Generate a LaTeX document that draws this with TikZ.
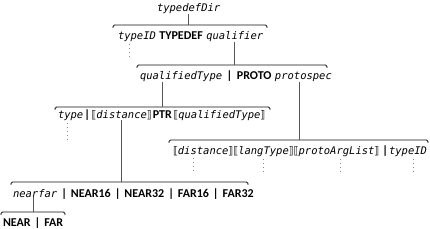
\documentclass[tikz,border=0pt]{standalone}
\usepackage{fontspec}
\usepackage{tikz}
\usetikzlibrary{positioning}
\newfontfamily\ntfont{DejaVu Sans Mono}
\newfontfamily\bkfont{DejaVu Sans}
\newfontfamily\kwfont{Carlito}
\definecolor{ink}{HTML}{111111}
\definecolor{stemc}{HTML}{555555}
\definecolor{dotc}{HTML}{8A8A8A}
\newcommand{\lbrk}{{\bkfont\upshape ⟦}\kern-0.3pt}
\newcommand{\rbrk}{\kern-0.3pt{\bkfont\upshape ⟧}}
\tikzset{
  nt/.style={font=\ntfont\itshape\fontsize{10.5}{12}\selectfont,inner sep=0pt,outer sep=0pt,anchor=base west},
  kw/.style={font=\kwfont\bfseries\fontsize{12}{12}\selectfont,inner sep=0pt,outer sep=0pt,anchor=base west},
  brk/.style={ink,line width=0.8pt,rounded corners=1.5pt},
  stem/.style={stemc,line width=0.9pt},
  ellip/.style={dotc,line width=1pt,dash pattern=on 1pt off 3pt},
}

\begin{document}
\begin{tikzpicture}[x=1pt,y=-1pt]
  \useasboundingbox (0,0) rectangle (430,229);
  % ---------- bracket ends and stem feet ----------
  \coordinate (b1l) at (113,25);  \coordinate (b1r) at (267,25);
  \coordinate (b2l) at (137,65);  \coordinate (b2r) at (327,65);
  \coordinate (b3l) at (55,107);  \coordinate (b3r) at (270,107);
  \coordinate (b4l) at (169,140); \coordinate (b4r) at (428,140);
  \coordinate (b5l) at (11,182);  \coordinate (b5r) at (248,182);
  \coordinate (b6l) at (1,212);   \coordinate (b6r) at (65,212);
  \coordinate (s3) at (162,107);
  \coordinate (s4) at (299,140);
  \coordinate (s5) at (121,182);
  \coordinate (s6) at (33,212);
  % ---------- rows ----------
  \node[nt] (tdd) at (157,12) {typedefDir};
  \node[nt] (tid) at (118,40) {typeID};
  \node[kw,base right=3.5pt of tid] (tdef) {TYPEDEF};
  \node[nt,base right=3.5pt of tdef] (qual) {qualifier};
  \node[nt] (qt) at (140,80) {qualifiedType};
  \node[kw,base right=4.5pt of qt] (bar1) {|};
  \node[kw,base right=4.5pt of bar1] (proto) {PROTO};
  \node[nt,base right=3.5pt of proto] (ps) {protospec};
  \node[nt] (ty) at (58,119) {type};
  \node[kw,base right=1pt of ty] (bar2) {|};
  \node[nt,base right=1.5pt of bar2] (dist) {\lbrk distance\rbrk};
  \node[kw,base right=1pt of dist] (ptr) {PTR};
  \node[nt,base right=1.5pt of ptr] (pqt) {\lbrk qualifiedType\rbrk};
  \node[nt] (dist2) at (173,155) {\lbrk distance\rbrk};
  \node[nt,base right=0pt of dist2] (lt) {\lbrk langType\rbrk};
  \node[nt,base right=0pt of lt] (pal) {\lbrk protoArgList\rbrk};
  \node[kw,base right=3pt of pal] (bar3) {|};
  \node[nt,base right=1pt of bar3] (tid2) {typeID};
  \node[nt] (nf) at (13,197) {nearfar};
  \node[kw,base right=4pt of nf] (bar4) {|};
  \node[kw,base right=4pt of bar4] (n16) {NEAR16};
  \node[kw,base right=4pt of n16] (bar5) {|};
  \node[kw,base right=4pt of bar5] (n32) {NEAR32};
  \node[kw,base right=4pt of n32] (bar6) {|};
  \node[kw,base right=4pt of bar6] (f16) {FAR16};
  \node[kw,base right=4pt of f16] (bar7) {|};
  \node[kw,base right=4pt of bar7] (f32) {FAR32};
  \node[kw] (near) at (3,226) {NEAR};
  \node[kw,base right=4pt of near] (bar8) {|};
  \node[kw,base right=4pt of bar8] (far) {FAR};
  % ---------- brackets ----------
  \foreach \b in {1,...,6}
    \draw[brk] ([yshift=-3pt]b\b l) -- (b\b l) -- (b\b r) -- ([yshift=-3pt]b\b r);
  % ---------- stems ----------
  \draw[stem] (tdd.south) -- (tdd.south |- b1l);
  \draw[stem] (qual.south) -- (qual.south |- b2l);
  \draw[stem] (qt.south -| s3) -- (s3);
  \draw[stem] (ps.south -| s4) -- (s4);
  \draw[stem] (dist.south -| s5) -- (s5);
  \draw[stem] (nf.south -| s6) -- (s6);
  % ---------- elisions ----------
  \coordinate (e1) at (129,58);
  \coordinate (e2) at (67,142);
  \coordinate (e3) at (193,172);
  \coordinate (e4) at (263,172);
  \coordinate (e5) at (340,172);
  \coordinate (e6) at (413,172);
  \draw[ellip] ([yshift=-2pt]tid.south -| e1) -- (e1);
  \draw[ellip] ([yshift=-2pt]ty.south -| e2) -- (e2);
  \draw[ellip] ([yshift=-2pt]dist2.south -| e3) -- (e3);
  \draw[ellip] ([yshift=-2pt]lt.south -| e4) -- (e4);
  \draw[ellip] ([yshift=-2pt]pal.south -| e5) -- (e5);
  \draw[ellip] ([yshift=-2pt]tid2.south -| e6) -- (e6);
\end{tikzpicture}
\end{document}
